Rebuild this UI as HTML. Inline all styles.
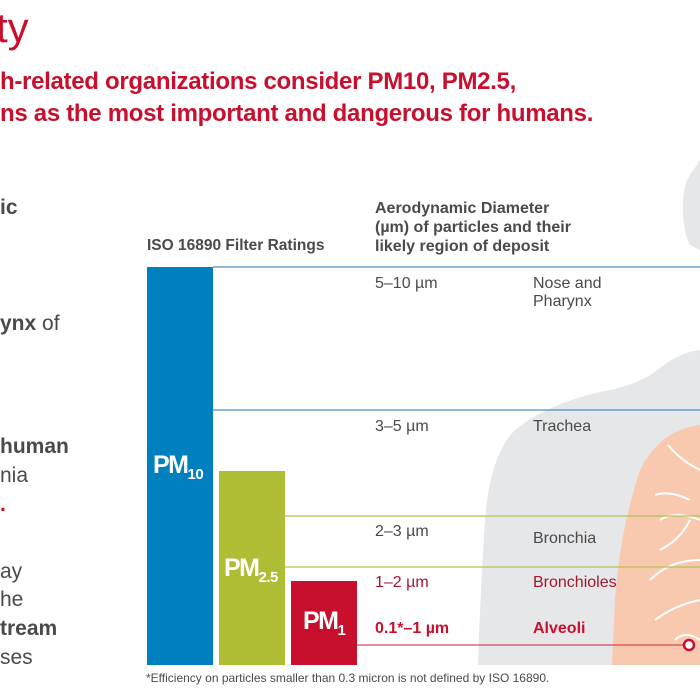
<!DOCTYPE html>
<html><head><meta charset="utf-8"><style>
body{margin:0;width:700px;height:700px;overflow:hidden;background:#fff;position:relative;font-family:"Liberation Sans",Arial,sans-serif}
.t{position:absolute;white-space:nowrap}
.g{color:#4a4a4a}
.b{font-weight:bold}
.r{color:#c8102e}
.pm{font-weight:bold;color:#fff;font-size:25px;letter-spacing:-1.5px}
.pm span{font-size:15px;position:relative;top:6px;letter-spacing:-0.5px}
</style></head><body>
<svg width="700" height="700" style="position:absolute;left:0;top:0">
<path d="M700 160 L695 168 Q684 180 683 200 Q682 230 690 245 L700 250 Z" fill="#e6e7e8"/>
<path d="M700 350 Q680 352 660 368 Q640 385 600 392 Q545 405 515 430 Q490 455 485 520 Q480 600 478 665 L700 665 Z" fill="#e6e7e8"/>
<path d="M700 425 Q660 430 640 470 Q620 530 615 600 L612 665 L700 665 Z" fill="#f8c9ae"/>
<g stroke="#fff" stroke-width="2" fill="none">
<path d="M700 470 Q680 460 668 445"/><path d="M700 520 Q675 510 660 520"/><path d="M690 500 Q670 490 655 495"/>
<path d="M700 560 Q670 560 650 580"/><path d="M700 600 Q675 605 655 620"/><path d="M700 640 Q685 630 675 640"/>
<path d="M690 520 Q680 540 660 550"/>
</g>
<line x1="213" y1="267" x2="700" y2="267" stroke="#4a8fc3" stroke-width="1.2"/>
<line x1="213" y1="410" x2="700" y2="410" stroke="#4a8fc3" stroke-width="1.2"/>
<line x1="285" y1="516" x2="700" y2="516" stroke="#b5c25a" stroke-width="1.2"/>
<line x1="285" y1="567" x2="700" y2="567" stroke="#b5c25a" stroke-width="1.2"/>
<line x1="357" y1="645" x2="684" y2="645" stroke="#d24a5a" stroke-width="1.2"/>
<circle cx="689" cy="645" r="5" fill="#fff" stroke="#c8102e" stroke-width="2.5"/>
<rect x="147" y="267" width="66" height="398" fill="#0080bf"/>
<rect x="219" y="471" width="66" height="194" fill="#afbd34"/>
<rect x="291" y="581" width="66" height="84" fill="#c8102e"/>
</svg>
<div class="t r" style="left:-4px;top:4px;font-size:42px">ty</div>
<div class="t r b" style="left:0;top:68px;font-size:24px;letter-spacing:-0.3px">h-related organizations consider PM10, PM2.5,</div>
<div class="t r b" style="left:0;top:100px;font-size:24px;letter-spacing:-0.3px">ns as the most important and dangerous for humans.</div>
<div class="t g b" style="left:0;top:196px;font-size:21px">ic</div>
<div class="t g" style="left:0;top:312px;font-size:21px"><b>ynx</b> of</div>
<div class="t g b" style="left:0;top:435px;font-size:21px">human</div>
<div class="t g" style="left:0;top:464px;font-size:21px">nia</div>
<div class="t r b" style="left:0;top:493px;font-size:21px">.</div>
<div class="t g" style="left:0;top:560px;font-size:21px">ay</div>
<div class="t g" style="left:0;top:588px;font-size:21px">he</div>
<div class="t g b" style="left:0;top:617px;font-size:21px">tream</div>
<div class="t g" style="left:0;top:646px;font-size:21px">ses</div>
<div class="t g b" style="left:147px;top:237px;font-size:15.5px">ISO 16890 Filter Ratings</div>
<div class="t g b" style="left:375px;top:199px;font-size:16px;line-height:19px">Aerodynamic Diameter<br>(µm) of particles and their<br>likely region of deposit</div>
<div class="t g" style="left:375px;top:275px;font-size:16px">5–10 µm</div>
<div class="t g" style="left:533px;top:275px;font-size:16px;line-height:18px">Nose and<br>Pharynx</div>
<div class="t g" style="left:375px;top:418px;font-size:16px">3–5 µm</div>
<div class="t g" style="left:533px;top:418px;font-size:16px">Trachea</div>
<div class="t g" style="left:375px;top:523px;font-size:16px">2–3 µm</div>
<div class="t g" style="left:533px;top:530px;font-size:16px">Bronchia</div>
<div class="t" style="left:375px;top:574px;font-size:16px;color:#a0182e">1–2 µm</div>
<div class="t" style="left:533px;top:574px;font-size:16px;color:#a0182e">Bronchioles</div>
<div class="t r b" style="left:375px;top:620px;font-size:16px">0.1*–1 µm</div>
<div class="t r b" style="left:533px;top:620px;font-size:16px">Alveoli</div>
<div class="t g" style="left:146px;top:671px;font-size:12px">*Efficiency on particles smaller than 0.3 micron is not defined by ISO 16890.</div>
<div class="t pm" style="left:153px;top:451px">PM<span>10</span></div>
<div class="t pm" style="left:224px;top:554px">PM<span>2.5</span></div>
<div class="t pm" style="left:303px;top:607px">PM<span>1</span></div>
</body></html>
